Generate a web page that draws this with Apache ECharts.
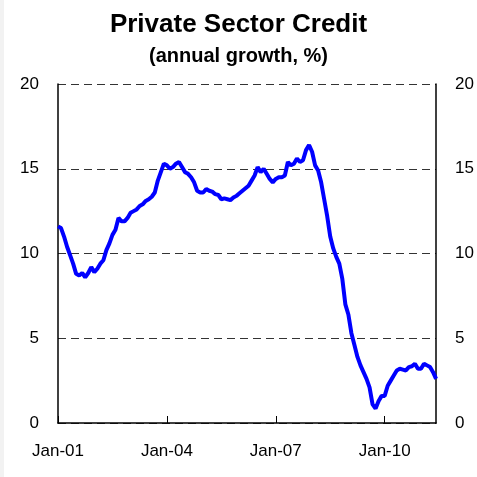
<!DOCTYPE html>
<html>
<head>
<meta charset="utf-8">
<script src="https://cdn.jsdelivr.net/npm/echarts@6/dist/echarts.min.js"></script>
<style>
  html, body { margin: 0; padding: 0; background: #fff; }
  #chart { width: 477px; height: 477px; }
</style>
</head>
<body>
<div id="chart"></div>
<script>
  // monthly, Jan-01 .. Jun-11
  var monthNames = ['Jan', 'Feb', 'Mar', 'Apr', 'May', 'Jun', 'Jul', 'Aug', 'Sep', 'Oct', 'Nov', 'Dec'];
  var months = [];
  for (var i = 0; i < 126; i++) {
    var yy = 1 + Math.floor(i / 12);
    months.push(monthNames[i % 12] + '-' + (yy < 10 ? '0' + yy : '' + yy));
  }

  var credit = [
    11.6, 11.5, 11.0, 10.4, 9.9, 9.4, 8.8, 8.7, 8.85, 8.6, 8.85, 9.2,
    8.9, 9.1, 9.4, 9.6, 10.2, 10.6, 11.1, 11.4, 12.1, 11.9, 11.9, 12.1,
    12.4, 12.5, 12.6, 12.8, 12.9, 13.1, 13.2, 13.35, 13.6, 14.3, 14.8, 15.3,
    15.2, 15.0, 15.1, 15.3, 15.4, 15.1, 14.8, 14.7, 14.5, 14.2, 13.7, 13.6,
    13.6, 13.8, 13.7, 13.65, 13.5, 13.45, 13.2, 13.25, 13.2, 13.15, 13.3, 13.4,
    13.55, 13.7, 13.85, 14.0, 14.3, 14.6, 15.1, 14.8, 15.0, 14.7, 14.4, 14.2,
    14.4, 14.5, 14.5, 14.6, 15.4, 15.2, 15.3, 15.6, 15.4, 15.5, 16.1, 16.4,
    16.0, 15.2, 14.9, 14.2, 13.2, 12.2, 11.0, 10.3, 9.8, 9.4, 8.5, 7.0,
    6.4, 5.3, 4.6, 3.9, 3.4, 3.0, 2.6, 2.1, 1.1, 0.85, 1.3, 1.6,
    1.6, 2.2, 2.5, 2.8, 3.1, 3.2, 3.15, 3.1, 3.3, 3.35, 3.5, 3.2,
    3.2, 3.5, 3.4, 3.3, 3.0, 2.6
  ];

  var yTicks = [0, 5, 10, 15, 20];

  var myChart = echarts.init(document.getElementById('chart'));
  var font = 'Liberation Sans, Arial, sans-serif';
  var yLabel = {
    color: '#000',
    fontSize: 17,
    fontFamily: font,
    margin: 19
  };
  var option = {
    backgroundColor: '#fff',
    animation: false,
    title: [
      {
        text: 'Private Sector Credit',
        left: 'center',
        top: 7,
        textStyle: { fontSize: 26, fontWeight: 'bold', color: '#000', fontFamily: font }
      },
      {
        text: '(annual growth, %)',
        left: 'center',
        top: 41,
        textStyle: { fontSize: 20, fontWeight: 'bold', color: '#000', fontFamily: font }
      }
    ],
    graphic: [
      {
        type: 'rect',
        left: 0,
        top: 0,
        shape: { width: 4, height: 477 },
        style: { fill: '#f2f2f2' },
        silent: true
      }
    ],
    grid: {
      left: 58,
      right: 37,
      top: 84,
      bottom: 54
    },
    xAxis: {
      type: 'category',
      data: months,
      boundaryGap: false,
      axisLine: { show: true, lineStyle: { color: '#000', width: 1.5 } },
      axisTick: {
        show: true,
        inside: true,
        length: 7,
        interval: function (index) { return index % 36 === 0; },
        lineStyle: { color: '#000' }
      },
      axisLabel: {
        interval: function (index) { return index % 36 === 0; },
        color: '#000',
        fontSize: 17,
        fontFamily: font,
        margin: 20
      },
      splitLine: { show: false }
    },
    yAxis: [
      {
        type: 'value',
        min: yTicks[0],
        max: yTicks[yTicks.length - 1],
        interval: 5,
        axisLine: { show: true, lineStyle: { color: '#000', width: 1.5 } },
        axisTick: { show: false },
        axisLabel: yLabel,
        splitLine: {
          show: true,
          lineStyle: { color: '#333', type: [8, 5], width: 1 }
        }
      },
      {
        type: 'value',
        position: 'right',
        min: yTicks[0],
        max: yTicks[yTicks.length - 1],
        interval: 5,
        axisLine: { show: true, lineStyle: { color: '#000', width: 1.5 } },
        axisTick: { show: false },
        axisLabel: yLabel,
        splitLine: { show: false }
      }
    ],
    series: [
      {
        name: 'Private Sector Credit',
        type: 'line',
        data: credit,
        showSymbol: false,
        smooth: false,
        lineStyle: { color: '#0000ff', width: 4 },
        itemStyle: { color: '#0000ff' }
      }
    ]
  };
  myChart.setOption(option);
</script>
</body>
</html>
